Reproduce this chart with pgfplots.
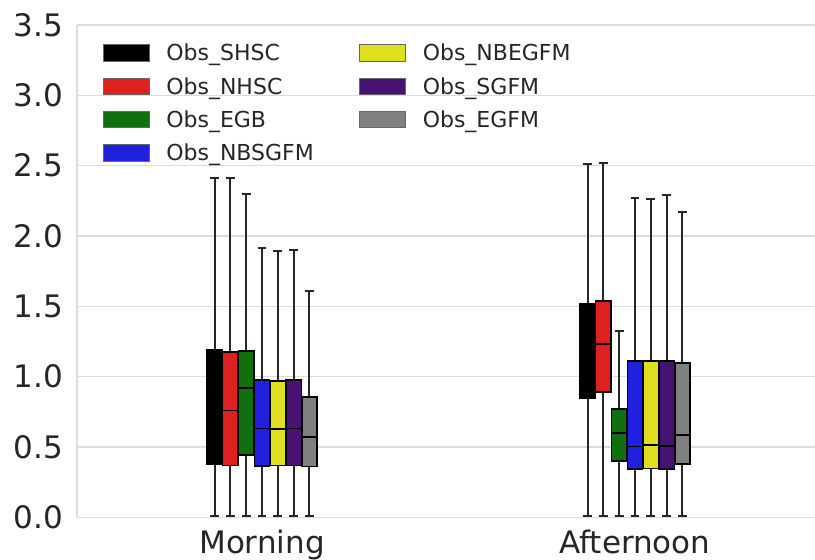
\documentclass[border=0pt]{standalone}
\usepackage{fontspec}
\setmainfont{DejaVu Sans}
\usepackage{pgfplots}
\usepackage{pgfplotstable}
\pgfplotsset{compat=1.18}
\usepgfplotslibrary{statistics}

\definecolor{cSHSC}{RGB}{0,0,0}
\definecolor{cNHSC}{RGB}{223,32,32}
\definecolor{cEGB}{RGB}{16,112,16}
\definecolor{cNBSGFM}{RGB}{32,32,223}
\definecolor{cNBEGFM}{RGB}{223,223,32}
\definecolor{cSGFM}{RGB}{72,18,115}
\definecolor{cEGFM}{RGB}{128,128,128}
\definecolor{gridc}{RGB}{220,220,220}
\definecolor{edgec}{RGB}{0,0,0}

% rows: series order SHSC, NHSC, EGB, NBSGFM, NBEGFM, SGFM, EGFM; each Morning then Afternoon
\pgfplotstableread{
lw   lq    med   uq    uw
0.01 0.379 0.760 1.194 2.41
0.01 0.848 1.230 1.516 2.51
0.01 0.367 0.758 1.177 2.41
0.01 0.891 1.232 1.539 2.52
0.01 0.443 0.921 1.184 2.30
0.01 0.400 0.599 0.768 1.324
0.01 0.365 0.630 0.976 1.912
0.01 0.343 0.502 1.111 2.27
0.01 0.367 0.628 0.969 1.89
0.01 0.348 0.512 1.111 2.26
0.01 0.367 0.630 0.976 1.90
0.01 0.343 0.509 1.113 2.29
0.01 0.360 0.569 0.857 1.61
0.01 0.377 0.585 1.095 2.17
}\boxdata

\newcommand\bx[3]{%
\pgfplotstablegetelem{#1}{lw}\of\boxdata\edef\vlw{\pgfplotsretval}%
\pgfplotstablegetelem{#1}{lq}\of\boxdata\edef\vlq{\pgfplotsretval}%
\pgfplotstablegetelem{#1}{med}\of\boxdata\edef\vmed{\pgfplotsretval}%
\pgfplotstablegetelem{#1}{uq}\of\boxdata\edef\vuq{\pgfplotsretval}%
\pgfplotstablegetelem{#1}{uw}\of\boxdata\edef\vuw{\pgfplotsretval}%
\edef\doit{\noexpand\addplot[forget plot, fill=#2, draw=edgec, line width=1.6pt,
  boxplot prepared={draw position=#3, box extend=0.041, whisker extend=0.024,
    lower whisker=\vlw, lower quartile=\vlq, median=\vmed,
    upper quartile=\vuq, upper whisker=\vuw}] coordinates {};}%
\doit}

\begin{document}
\begin{tikzpicture}
\begin{axis}[
  scale only axis, width=738pt, height=492.3pt,
  xmin=-0.496, xmax=1.4826, ymin=0, ymax=3.5,
  boxplot/draw direction=y,
  boxplot/every box/.append style={line width=1.6pt, draw=edgec},
  boxplot/every whisker/.append style={line width=2pt, draw=black!85},
  boxplot/every median/.append style={line width=1.6pt, draw=edgec},
  axis x line*=bottom, axis y line*=left,
  axis line style={gridc, line width=1.5pt, -},
  ymajorgrids, grid style={gridc, line width=1.5pt},
  major tick length=0pt,
  xtick={0,1}, xticklabels={Morning,Afternoon},
  ytick={0,0.5,1,1.5,2,2.5,3,3.5},
  /pgf/number format/assume math mode=true,
  yticklabel style={/pgf/number format/fixed, /pgf/number format/fixed zerofill, /pgf/number format/precision=1,
    font=\fontsize{31}{36}\selectfont, text=black!85, inner sep=0pt, xshift=-14pt},
  xticklabel style={font=\fontsize{31}{36}\selectfont, text=black!85, inner sep=0pt, yshift=-12.7pt},
  legend columns=2,
  legend cell align=left,
  legend image code/.code={\draw[#1] (0pt,-8.3pt) rectangle (46pt,8.3pt);},
  legend style={draw=none, fill=none, inner sep=0pt, outer sep=0pt,
    font=\fontsize{22}{26}\selectfont, text=black!85,
    nodes={inner sep=0pt, text height=21pt, text depth=5pt},
    row sep=7.3pt,
    /tikz/every odd column/.append style={column sep=16.5pt},
    /tikz/every even column/.append style={column sep=45.6pt},
    at={(0,1)}, anchor=north west, xshift=26pt, yshift=-15pt},
]
\bx{0}{cSHSC}{-0.1273}
\bx{1}{cSHSC}{0.8727}
\bx{2}{cNHSC}{-0.0849}
\bx{3}{cNHSC}{0.9151}
\bx{4}{cEGB}{-0.0424}
\bx{5}{cEGB}{0.9576}
\bx{6}{cNBSGFM}{0}
\bx{7}{cNBSGFM}{1}
\bx{8}{cNBEGFM}{0.0424}
\bx{9}{cNBEGFM}{1.0424}
\bx{10}{cSGFM}{0.0849}
\bx{11}{cSGFM}{1.0849}
\bx{12}{cEGFM}{0.1273}
\bx{13}{cEGFM}{1.1273}

\addlegendimage{fill=cSHSC, draw=black!60, line width=0.8pt}
\addlegendentry{Obs\_SHSC}
\addlegendimage{fill=cNBEGFM, draw=black!60, line width=0.8pt}
\addlegendentry{Obs\_NBEGFM}
\addlegendimage{fill=cNHSC, draw=black!60, line width=0.8pt}
\addlegendentry{Obs\_NHSC}
\addlegendimage{fill=cSGFM, draw=black!60, line width=0.8pt}
\addlegendentry{Obs\_SGFM}
\addlegendimage{fill=cEGB, draw=black!60, line width=0.8pt}
\addlegendentry{Obs\_EGB}
\addlegendimage{fill=cEGFM, draw=black!60, line width=0.8pt}
\addlegendentry{Obs\_EGFM}
\addlegendimage{fill=cNBSGFM, draw=black!60, line width=0.8pt}
\addlegendentry{Obs\_NBSGFM}
\end{axis}
\pgfresetboundingbox
\path (-77pt,-42.7pt) rectangle (738pt,517.3pt);
\end{tikzpicture}
\end{document}
